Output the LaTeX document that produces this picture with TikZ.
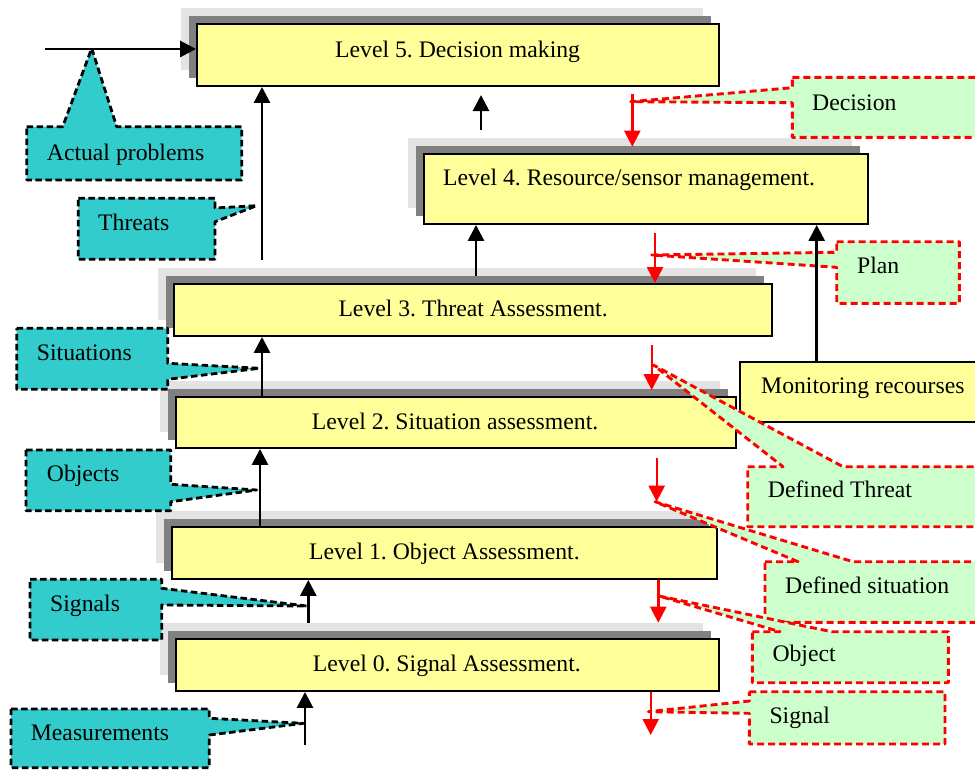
\documentclass[tikz,border=0pt]{standalone}
\usepackage{fontspec}
\setmainfont{Liberation Serif}
\usetikzlibrary{arrows.meta}
\frenchspacing

\definecolor{boxyellow}{HTML}{FFFF99}
\definecolor{shadelight}{HTML}{E3E3E3}
\definecolor{shadedark}{HTML}{808080}
\definecolor{calloutcyan}{HTML}{33CCCC}
\definecolor{calloutgreen}{HTML}{CCFFCC}

\tikzset{
  lvl/.style={rectangle, draw=black, line width=1.9pt, fill=boxyellow, inner sep=0pt},
  lbl/.style={anchor=base west, inner sep=0pt, font=\fontsize{23.7pt}{28pt}\selectfont},
  uparrow/.style={draw=black, line width=2.8pt, -{Triangle[length=16pt,width=16pt]}},
  downarrow/.style={draw=red, line width=2.4pt, -{Triangle[length=16pt,width=16pt]}},
  cyancall/.style={fill=calloutcyan, draw=black, line width=2.8pt, line join=round,
    dash pattern=on 6.5pt off 3.5pt},
  greencall/.style={fill=calloutgreen, draw=red, line width=2.9pt, line join=round,
    dash pattern=on 7pt off 4pt},
}

% yellow level box with its two stepped grey shadows: name, x1, y1, x2, y2
\newcommand\levelbox[5]{%
  \fill[shadelight] (#2-16,#3-16) rectangle (#4-16,#5-16);
  \fill[shadedark] (#2-8,#3-8) rectangle (#4-8,#5-8);
  \node[lvl, minimum width={(#4-#2)*1pt}, minimum height={(#5-#3)*1pt}]
    (#1) at ({(#2+#4)/2},{(#3+#5)/2}) {};
}

\begin{document}
\begin{tikzpicture}[x=1pt,y=-1pt]
\useasboundingbox (0,0) rectangle (975,769);
\clip (0,0) rectangle (975,769);

% ---------- level boxes ----------
\levelbox{L5}{197}{24}{719}{86}
\levelbox{L4}{424}{154}{868}{224}
\levelbox{L3}{174}{284}{772}{336}
\levelbox{L2}{176}{397}{736}{448}
\levelbox{L1}{172}{527}{717}{579}
\levelbox{L0}{176}{639}{719}{691}
\node[lvl, minimum width=250pt, minimum height=60pt] (mon) at (865,392) {};

\node[lbl] (t5) at (335,57.5) {Level 5. Decision making};
\node[lbl] (t4) at (443,185.7) {Level 4. Resource/sensor management.};
\node[lbl] (t3) at (338.3,316.7) {Level 3. Threat Assessment.};
\node[lbl] (t2) at (311.7,429.3) {Level 2. Situation assessment.};
\node[lbl] (t1) at (309,559.3) {Level 1. Object Assessment.};
\node[lbl] (t0) at (312.7,671.7) {Level 0. Signal Assessment.};
\node[lbl] (tmon) at (761,393.3) {Monitoring recourses};

% ---------- input callouts (cyan) ----------
\coordinate (pAP) at (91.7,48.3);
\path[cyancall] (26.7,126.7) -- (62.7,126.7) -- (pAP) -- (116.7,126.7)
  -- (241.7,126.7) -- (241.7,180) -- (26.7,180) -- cycle;
\node[lbl] (cAP) at (46.7,160) {Actual problems};

\coordinate (pTh) at (256.7,205.7);
\path[cyancall] (78.3,198.3) -- (215,198.3) -- (215,208) -- (pTh) -- (215,221.7)
  -- (215,259.3) -- (78.3,259.3) -- cycle;
\node[lbl] (cTh) at (98,230.7) {Threats};

\coordinate (pSi) at (259.3,368.3);
\path[cyancall] (16.7,328.3) -- (167.7,328.3) -- (167.7,363.3) -- (pSi) -- (167.7,379.3)
  -- (167.7,389.3) -- (16.7,389.3) -- cycle;
\node[lbl] (cSi) at (36.7,360.7) {Situations};

\coordinate (pOb) at (256.7,490);
\path[cyancall] (26,450) -- (170.7,450) -- (170.7,484.3) -- (pOb) -- (170.7,501.7)
  -- (170.7,510.7) -- (26,510.7) -- cycle;
\node[lbl] (cOb) at (46.7,481.7) {Objects};

\coordinate (pSg) at (306.7,606);
\path[cyancall] (30,579.3) -- (161.7,579.3) -- (161.7,588.3) -- (pSg) -- (161.7,605)
  -- (161.7,640) -- (30,640) -- cycle;
\node[lbl] (cSg) at (50,611.7) {Signals};

\coordinate (pMe) at (303.3,723.3);
\path[cyancall] (11,709) -- (209.3,709) -- (209.3,718.3) -- (pMe) -- (209.3,735)
  -- (209.3,767.7) -- (11,767.7) -- cycle;
\node[lbl] (cMe) at (30.7,740.7) {Measurements};

% ---------- output callouts (green) ----------
\coordinate (pDe) at (630.7,101.7);
\path[greencall] (792.3,77.3) -- (995,77.3) -- (995,137.3) -- (792.3,137.3)
  -- (792.3,102.7) -- (pDe) -- (792.3,87.7) -- cycle;
\node[lbl] (gDe) at (812,110) {Decision};

\coordinate (pPl) at (651.7,255);
\path[greencall] (836.7,241.7) -- (959.3,241.7) -- (959.3,303.3) -- (836.7,303.3)
  -- (836.7,267.3) -- (pPl) -- (836.7,252.3) -- cycle;
\node[lbl] (gPl) at (857,273.3) {Plan};

\coordinate (pDT) at (653.3,365);
\path[greencall] (747.7,466.7) -- (783,466.7) -- (pDT) -- (843,466.7)
  -- (995,466.7) -- (995,526.7) -- (747.7,526.7) -- cycle;
\node[lbl] (gDT) at (767.7,497.7) {Defined Threat};

\coordinate (pDS) at (655,501.7);
\path[greencall] (765,561.7) -- (798,561.7) -- (pDS) -- (853,561.7)
  -- (995,561.7) -- (995,622.3) -- (765,622.3) -- cycle;
\node[lbl] (gDS) at (785,593.3) {Defined situation};

\coordinate (pOo) at (659,596);
\path[greencall] (752.3,631.7) -- (780,631.7) -- (pOo) -- (831.7,631.7)
  -- (948.3,631.7) -- (948.3,682.7) -- (752.3,682.7) -- cycle;
\node[lbl] (gOo) at (772.3,661.7) {Object};

\coordinate (pSo) at (648.3,711.7);
\path[greencall] (749.3,691.7) -- (945,691.7) -- (945,744) -- (749.3,744)
  -- (749.3,713.3) -- (pSo) -- (749.3,701) -- cycle;
\node[lbl] (gSo) at (769.3,723.3) {Signal};

% ---------- upward (black) arrows ----------
\coordinate (inP) at (45,49);
\draw[uparrow] (inP) -- (inP -| L5.west);
\coordinate (a35) at (262,260);
\draw[uparrow] (a35) -- (a35 |- L5.south);
\coordinate (a34) at (476,276);
\draw[uparrow] (a34) -- (a34 |- L4.south);
\coordinate (a45) at (481,130);
\coordinate (a45e) at (481,95);
\draw[uparrow] (a45) -- (a45e);
\coordinate (x23) at (262,0);
\draw[uparrow] (L2.north -| x23) -- (L3.south -| x23);
\coordinate (x12) at (260,0);
\draw[uparrow] (L1.north -| x12) -- (L2.south -| x12);
\coordinate (a01) at (308.3,622.7);
\draw[uparrow] (a01) -- (a01 |- L1.south);
\coordinate (inM) at (305,745);
\draw[uparrow] (inM) -- (inM |- L0.south);
\coordinate (xmon) at (816.7,0);
\draw[uparrow] (mon.north -| xmon) -- (L4.south -| xmon);

% ---------- downward (red) arrows ----------
\coordinate (r5) at (632.3,94);   \coordinate (r5e) at (632.3,146.7);
\draw[downarrow] (r5) -- (r5e);
\coordinate (r4) at (655,232.7);
\draw[downarrow] (r4) -- (r4 |- L3.north);
\coordinate (r3) at (651.7,345);  \coordinate (r3e) at (651.7,390);
\draw[downarrow] (r3) -- (r3e);
\coordinate (r2) at (656.7,457.7); \coordinate (r2e) at (656.7,501.7);
\draw[downarrow] (r2) -- (r2e);
\coordinate (x1r) at (658.3,0);    \coordinate (r1e) at (658.3,622.7);
\draw[downarrow] (L1.south -| x1r) -- (r1e);
\coordinate (x0r) at (650.7,0);    \coordinate (r0e) at (650.7,735);
\draw[downarrow] (L0.south -| x0r) -- (r0e);
\end{tikzpicture}
\end{document}
